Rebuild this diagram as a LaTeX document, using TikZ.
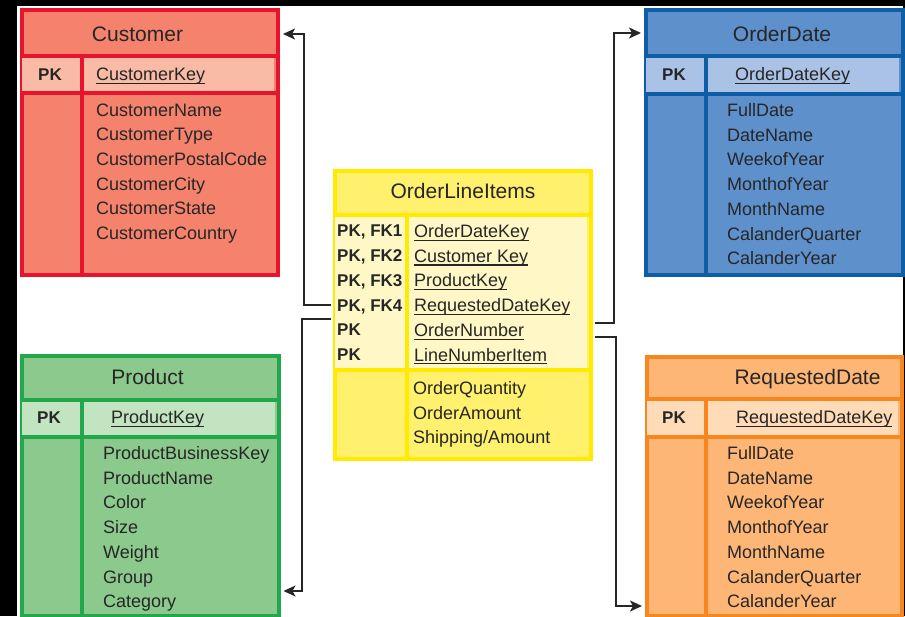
\documentclass[tikz,border=0pt]{standalone}
\usepackage{fontspec}
\setmainfont{Liberation Sans}
\usetikzlibrary{arrows.meta, positioning}

\newcommand{\ukey}[1]{\setbox0\hbox{#1}\rlap{\rule[-3.3pt]{\wd0}{1.1pt}}\box0}

\definecolor{ink}{HTML}{262626}
\definecolor{custLine}{HTML}{E8142D}
\definecolor{custFill}{HTML}{F5826C}
\definecolor{custLight}{HTML}{F9BBA6}
\definecolor{dateLine}{HTML}{0D5EA6}
\definecolor{dateFill}{HTML}{5E90CC}
\definecolor{dateLight}{HTML}{AAC2E6}
\definecolor{oliLine}{HTML}{FFEA00}
\definecolor{oliFill}{HTML}{FFF06E}
\definecolor{oliLight}{HTML}{FFF8C6}
\definecolor{prodLine}{HTML}{22A84A}
\definecolor{prodFill}{HTML}{8CC98C}
\definecolor{prodLight}{HTML}{C3E4C0}
\definecolor{reqLine}{HTML}{F7861F}
\definecolor{reqFill}{HTML}{FEB676}
\definecolor{reqLight}{HTML}{FFDCB7}

\begin{document}
\begin{tikzpicture}[
    x=1pt, y=-1pt,
    entity/.style={rectangle, draw, line width=4pt, inner sep=0pt, anchor=north west},
    divider/.style={line width=4pt},
    head/.style={font=\fontsize{21}{25}\selectfont, anchor=base, inner sep=0pt, text=ink},
    pk/.style={font=\bfseries\fontsize{17}{24.8}\selectfont, align=left, anchor=north west, inner sep=0pt, text=ink},
    field/.style={font=\fontsize{18}{24.7}\selectfont, align=left, anchor=north west, inner sep=0pt, text=ink},
    conn/.style={draw=ink, line width=1.5pt, -{Stealth[length=12pt, width=11pt, inset=3pt]}, shorten <=2pt, shorten >=3pt}
]
\useasboundingbox (0,0) rectangle (905,616);

% page
\fill[black] (0,0) rectangle (905,616);
\fill[white] (17,6) rectangle (903,616);

% Customer
\node[entity, draw=custLine, fill=custFill, minimum width=256, minimum height=265] (cust) at (20,8) {};
\fill[custLight] (22,58) rectangle (274,90.5);
\draw[divider, custLine] (20,56) -- (276,56) (20,92.5) -- (276,92.5) (81.5,56) -- (81.5,273);
\node[head] (custTitle) at (137.5,41.5) {Customer};
\node[pk, anchor=base] (custPK) at (50,80.5) {PK};
\node[field, anchor=base west] (custKey) at (96,80.5) {\ukey{CustomerKey}};
\node[field] (custBody) at (96,103.3) {CustomerName\\CustomerType\\CustomerPostalCode\\CustomerCity\\CustomerState\\CustomerCountry};

% OrderDate
\node[entity, draw=dateLine, fill=dateFill, minimum width=257, minimum height=265] (date) at (644,8) {};
\fill[dateLight] (646,58) rectangle (899,92);
\draw[divider, dateLine] (644,56) -- (901,56) (644,94) -- (901,94) (706,56) -- (706,273);
\node[head] (dateTitle) at (782,41.5) {OrderDate};
\node[pk, anchor=base] (datePK) at (674,80.5) {PK};
\node[field, anchor=base west] (dateKey) at (735,80.5) {\ukey{OrderDateKey}};
\node[field] (dateBody) at (727,103.3) {FullDate\\DateName\\WeekofYear\\MonthofYear\\MonthName\\CalanderQuarter\\CalanderYear};

% OrderLineItems
\node[entity, draw=oliLine, fill=oliFill, minimum width=256, minimum height=288] (oli) at (332.5,168.5) {};
\fill[oliLight] (334.5,216.5) rectangle (586.5,368);
\draw[divider, oliLine] (332.5,214.5) -- (588.5,214.5) (332.5,370) -- (588.5,370) (406.5,214.5) -- (406.5,456.5);
\node[head] (oliTitle) at (463,198.5) {OrderLineItems};
\node[pk] (oliPK) at (337,224.8) {PK, FK1\\PK, FK2\\PK, FK3\\PK, FK4\\PK\\PK};
\node[field] (oliKeys) at (414,224.3) {\ukey{OrderDateKey}\\\ukey{Customer Key}\\\ukey{ProductKey}\\\ukey{RequestedDateKey}\\\ukey{OrderNumber}\\\ukey{LineNumberItem}};
\node[field] (oliBody) at (413,381.3) {OrderQuantity\\OrderAmount\\Shipping/Amount};

% Product
\node[entity, draw=prodLine, fill=prodFill, minimum width=256.5, minimum height=260.5] (prod) at (20,353.5) {};
\fill[prodLight] (22,402) rectangle (274.5,434.5);
\draw[divider, prodLine] (20,400) -- (276.5,400) (20,436.5) -- (276.5,436.5) (81.5,400) -- (81.5,614);
\node[head] (prodTitle) at (147.5,384.5) {Product};
\node[pk, anchor=base] (prodPK) at (49,423.5) {PK};
\node[field, anchor=base west] (prodKey) at (111,423.5) {\ukey{ProductKey}};
\node[field] (prodBody) at (103,446.3) {ProductBusinessKey\\ProductName\\Color\\Size\\Weight\\Group\\Category};

% RequestedDate
\node[entity, draw=reqLine, fill=reqFill, minimum width=255, minimum height=259.5] (req) at (645,354.5) {};
\fill[reqLight] (647,401) rectangle (898,434.5);
\draw[divider, reqLine] (645,399) -- (900,399) (645,436.5) -- (900,436.5) (706,399) -- (706,614);
\node[head] (reqTitle) at (807.5,384.5) {RequestedDate};
\node[pk, anchor=base] (reqPK) at (674,423.5) {PK};
\node[field, anchor=base west] (reqKey) at (736,423.5) {\ukey{RequestedDateKey}};
\node[field] (reqBody) at (727,446.3) {FullDate\\DateName\\WeekofYear\\MonthofYear\\MonthName\\CalanderQuarter\\CalanderYear};

% links
\draw[conn] (oli.west |- 0,305) -| (304,34) -- (cust.east |- 0,34);
\draw[conn] (oli.west |- 0,319) -| (302,591) -- (prod.east |- 0,591);
\draw[conn] (oli.east |- 0,323) -| (614,33) -- (date.west |- 0,33);
\draw[conn] (oli.east |- 0,337) -| (616,606) -- (req.west |- 0,606);

\end{tikzpicture}
\end{document}
